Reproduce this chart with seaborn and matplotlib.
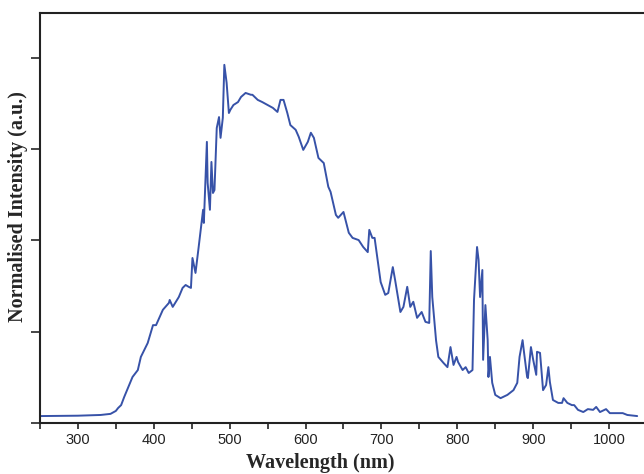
import numpy as np
import pandas as pd
import matplotlib
matplotlib.use('Agg')
import matplotlib.pyplot as plt
from matplotlib.ticker import MultipleLocator, NullFormatter
import seaborn as sns

# spectrum (wavelength in nm, normalised intensity)
wavelength = [251, 300, 330, 343, 350, 353, 357, 361, 366, 372, 379, 383, 392, 399, 403,
              412, 420, 421, 425, 433, 438, 442, 446, 449, 451, 455, 459, 465, 466, 470,
              471, 474, 476, 478, 480, 483, 486, 488, 491, 493, 496, 499, 501, 505, 511,
              515, 521, 528, 530, 537, 543, 550, 557, 563, 567, 571, 576, 580, 587, 591,
              597, 603, 607, 611, 617, 624, 630, 633, 640, 643, 650, 657, 662, 670, 676,
              682, 684, 688, 691, 695, 699, 705, 709, 715, 718, 725, 729, 734, 738, 742,
              747, 753, 758, 763, 765, 767, 772, 775, 782, 787, 791, 795, 799, 801, 807,
              811, 815, 820, 822, 826, 828, 830, 833, 834, 837, 840, 841, 843, 846, 850,
              857, 866, 874, 879, 882, 886, 888, 892, 893, 897, 900, 904, 905, 909, 913,
              917, 920, 922, 926, 933, 938, 940, 945, 951, 954, 959, 966, 972, 979, 983,
              988, 996, 1001, 1011, 1018, 1024, 1037]
intensity = [0.019, 0.020, 0.022, 0.025, 0.033, 0.041, 0.049, 0.071, 0.096, 0.126, 0.145, 0.181, 0.219, 0.268, 0.268,
             0.310, 0.329, 0.337, 0.318, 0.345, 0.370, 0.378, 0.373, 0.370, 0.452, 0.411, 0.479, 0.584, 0.548, 0.770,
             0.658, 0.584, 0.715, 0.630, 0.638, 0.808, 0.838, 0.781, 0.836, 0.981, 0.932, 0.849, 0.858, 0.871, 0.879,
             0.893, 0.904, 0.899, 0.899, 0.885, 0.879, 0.871, 0.863, 0.852, 0.885, 0.885, 0.849, 0.816, 0.803, 0.784,
             0.748, 0.770, 0.795, 0.781, 0.726, 0.712, 0.647, 0.633, 0.570, 0.562, 0.578, 0.521, 0.507, 0.501, 0.482,
             0.468, 0.529, 0.507, 0.507, 0.447, 0.386, 0.351, 0.356, 0.427, 0.392, 0.304, 0.318, 0.373, 0.318, 0.332,
             0.288, 0.304, 0.277, 0.274, 0.471, 0.345, 0.226, 0.181, 0.164, 0.153, 0.208, 0.159, 0.181, 0.167, 0.145,
             0.153, 0.137, 0.145, 0.337, 0.482, 0.447, 0.345, 0.419, 0.173, 0.323, 0.227, 0.126, 0.181, 0.110, 0.077,
             0.068, 0.077, 0.090, 0.110, 0.181, 0.227, 0.192, 0.126, 0.123, 0.208, 0.173, 0.132, 0.195, 0.192, 0.090,
             0.104, 0.153, 0.112, 0.063, 0.055, 0.055, 0.068, 0.055, 0.049, 0.049, 0.036, 0.030, 0.038, 0.036, 0.044,
             0.030, 0.038, 0.027, 0.027, 0.027, 0.022, 0.019]

x_ticks = [300, 400, 500, 600, 700, 800, 900, 1000]
y_ticks = [0, 0.25, 0.5, 0.75, 1.0]

df = pd.DataFrame({'wavelength': wavelength, 'intensity': intensity})

sns.set_style('ticks')
fig = plt.figure(figsize=(6.44, 4.74), dpi=100)
ax = fig.add_axes([0.062, 0.1076, 0.938, 0.865])

sns.lineplot(data=df, x='wavelength', y='intensity', sort=False, estimator=None,
             color='#3752a8', linewidth=1.4, ax=ax)

ax.set_xlim(250, 1046)
ax.set_ylim(0, 1.123)
ax.set_xticks(x_ticks)
ax.xaxis.set_minor_locator(MultipleLocator(50))
ax.set_yticks(y_ticks)
ax.yaxis.set_major_formatter(NullFormatter())
ax.tick_params(axis='x', which='both', direction='out', length=4, width=1.2,
               labelsize=10.5, colors='#222222')
ax.tick_params(axis='y', direction='out', length=6.5, width=1.2)
for lab in ax.get_xticklabels():
    lab.set_family('Liberation Sans')

for s in ['left', 'bottom', 'top']:
    ax.spines[s].set_linewidth(1.5)
    ax.spines[s].set_color('#222222')
ax.spines['right'].set_visible(False)

# bottom label sits right at the lower edge, as in the reference
ax.set_xlabel('Wavelength (nm)', family='Liberation Serif', fontweight='bold',
              fontsize=14.5)
ax.set_ylabel('Normalised Intensity (a.u.)', family='Liberation Serif', fontweight='bold',
              fontsize=14.5)
ax.xaxis.set_label_coords(0.464, -0.072)
ax.yaxis.set_label_coords(-0.02, 0.527)

fig.savefig('out.png', dpi=100)
